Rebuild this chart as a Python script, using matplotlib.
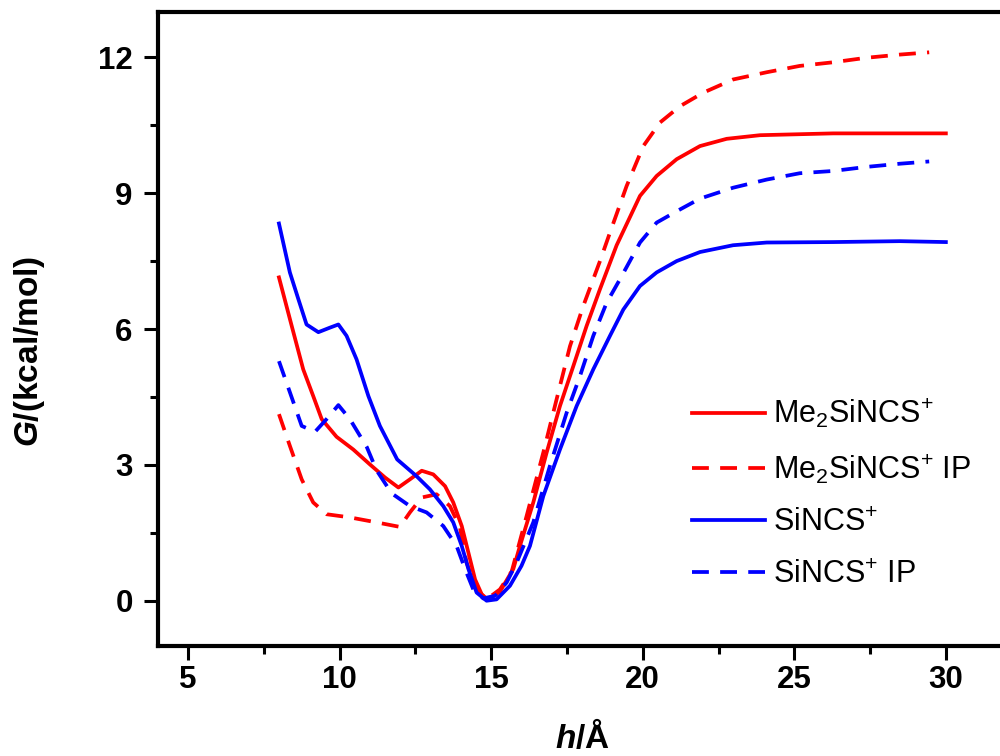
import numpy as np
import matplotlib
matplotlib.use("Agg")
import matplotlib.pyplot as plt

plt.rcParams['font.family'] = ['Liberation Sans', 'DejaVu Sans']
plt.rcParams['mathtext.fontset'] = 'custom'
plt.rcParams['mathtext.rm'] = 'Liberation Sans'
plt.rcParams['mathtext.it'] = 'Liberation Sans:italic:bold'
plt.rcParams['mathtext.bf'] = 'Liberation Sans:bold'

# Me2SiNCS+ (solid red)
me2_x = [8.0, 8.42, 8.80, 9.13, 9.41, 9.9, 10.45, 11.0, 11.5, 11.94, 12.32, 12.71, 13.09,
         13.48, 13.75, 14.03, 14.25, 14.47, 14.69, 14.9, 15.29, 15.73, 15.95, 16.39, 16.83,
         17.27, 17.71, 18.15, 18.59, 19.14, 19.91, 20.46, 21.12, 21.89, 22.77, 23.87,
         26.28, 30.0]
me2_g = [7.14, 6.07, 5.11, 4.52, 4.01, 3.62, 3.34, 3.01, 2.72, 2.50, 2.68, 2.87, 2.79,
         2.53, 2.17, 1.65, 1.06, 0.47, 0.14, 0.02, 0.2, 0.7, 1.21, 2.17, 3.27,
         4.30, 5.18, 6.07, 6.88, 7.85, 8.94, 9.38, 9.75, 10.04, 10.20, 10.28,
         10.32, 10.32]

# Me2SiNCS+ IP (dashed red)
me2ip_x = [8.0, 8.36, 8.75, 9.13, 9.57, 10.34, 11.22, 11.99, 12.32, 12.71, 13.2, 13.64,
           13.97, 14.19, 14.52, 14.85, 15.29, 15.68, 16.17, 16.72, 17.16, 17.6, 18.04,
           18.59, 18.92, 19.47, 20.02, 20.57, 21.23, 22.0, 22.98, 24.09, 25.18, 26.28,
           27.38, 28.48, 29.45]
me2ip_g = [4.12, 3.42, 2.68, 2.17, 1.91, 1.84, 1.73, 1.63, 1.95, 2.28, 2.35, 2.09,
           1.62, 0.84, 0.25, 0.03, 0.25, 0.65, 1.87, 3.27, 4.45, 5.62, 6.51,
           7.5, 8.13, 9.16, 10.04, 10.56, 10.92, 11.22, 11.51, 11.67, 11.81, 11.89,
           11.99, 12.06, 12.11]

# SiNCS+ (solid blue)
si_x = [8.0, 8.36, 8.64, 8.91, 9.30, 9.68, 9.96, 10.23, 10.56, 10.95, 11.33, 11.9,
        12.54, 12.98, 13.42, 13.75, 14.03, 14.25, 14.52, 14.85, 15.18, 15.62, 16.0,
        16.28, 16.72, 17.27, 17.82, 18.37, 18.92, 19.36, 19.91, 20.46, 21.12, 21.89,
        22.98, 24.09, 26.28, 28.48, 30.0]
si_g = [8.33, 7.25, 6.66, 6.10, 5.93, 6.03, 6.10, 5.85, 5.33, 4.52, 3.86, 3.12,
        2.75, 2.46, 2.09, 1.73, 1.21, 0.70, 0.18, 0.0, 0.03, 0.33, 0.77,
        1.21, 2.31, 3.34, 4.30, 5.11, 5.85, 6.43, 6.95, 7.25, 7.50, 7.70,
        7.85, 7.91, 7.92, 7.94, 7.92]

# SiNCS+ IP (dashed blue)
siip_x = [8.0, 8.42, 8.75, 9.19, 9.57, 9.96, 10.34, 10.9, 11.22, 11.72, 12.32, 12.87,
          13.42, 13.86, 14.14, 14.41, 14.74, 15.13, 15.51, 15.84, 16.39, 16.94, 17.49,
          17.93, 18.37, 18.81, 19.25, 19.91, 20.46, 21.12, 21.89, 22.98, 24.09, 25.18,
          26.28, 27.38, 28.48, 29.45]
siip_g = [5.29, 4.49, 3.86, 3.73, 4.01, 4.32, 4.01, 3.39, 2.88, 2.37, 2.09, 1.95,
          1.65, 1.21, 0.70, 0.25, 0.05, 0.11, 0.40, 0.84, 1.73, 2.98, 4.15,
          4.96, 5.85, 6.58, 7.10, 7.91, 8.35, 8.60, 8.88, 9.12, 9.30, 9.44,
          9.49, 9.58, 9.65, 9.70]

fig = plt.figure(figsize=(10, 7.56), dpi=100)
ax = fig.add_axes([0.1577, 0.1455, 0.86, 0.8386])

lw = 2.7
dash = (4.5, 3)
ax.plot(me2_x, me2_g, color='#ff0000', lw=lw, label=r'Me$_\mathregular{2}$SiNCS$^\mathregular{+}$')
ax.plot(me2ip_x, me2ip_g, color='#ff0000', lw=lw, dashes=dash,
        label=r'Me$_\mathregular{2}$SiNCS$^\mathregular{+}$ IP')
ax.plot(si_x, si_g, color='#0000ff', lw=lw, label=r'SiNCS$^\mathregular{+}$')
ax.plot(siip_x, siip_g, color='#0000ff', lw=lw, dashes=dash, label=r'SiNCS$^\mathregular{+}$ IP')

# right edge of the frame sits just outside the picture
ax.set_xlim(4, 32.37)
ax.set_ylim(-1, 13)
ax.set_xticks([5, 10, 15, 20, 25, 30])
ax.set_xticks(np.arange(7.5, 30, 5), minor=True)
ax.set_yticks([0, 3, 6, 9, 12])
ax.set_yticks([1.5, 4.5, 7.5, 10.5], minor=True)

for s in ax.spines.values():
    s.set_linewidth(3)
ax.tick_params(which='major', direction='out', length=10, width=2.2)
ax.tick_params(which='minor', direction='out', length=5.5, width=2.2)
ax.tick_params(axis='x', pad=4)
ax.tick_params(axis='y', pad=8)
ax.tick_params(top=False, right=False)
for lab in ax.get_xticklabels() + ax.get_yticklabels():
    lab.set_fontsize(22.5)
    lab.set_fontweight('bold')

ax.set_xlabel(r'$h$/Å', fontsize=24, fontweight='bold', va='center')
ax.set_ylabel(r'$G$/(kcal/mol)', fontsize=24, fontweight='bold', va='center')
ax.xaxis.set_label_coords(0.5 * 0.8489 / 0.86, -0.145)
ax.yaxis.set_label_coords(-0.1516 * 0.8489 / 0.86, 0.464)

ax.legend(loc='upper left', bbox_to_anchor=(0.6294 * 0.8489 / 0.86, 0.393), frameon=False,
          fontsize=22, handlelength=2.39, handletextpad=0.26, labelspacing=0.72,
          borderpad=0, borderaxespad=0)

fig.savefig('out.png', dpi=100)
